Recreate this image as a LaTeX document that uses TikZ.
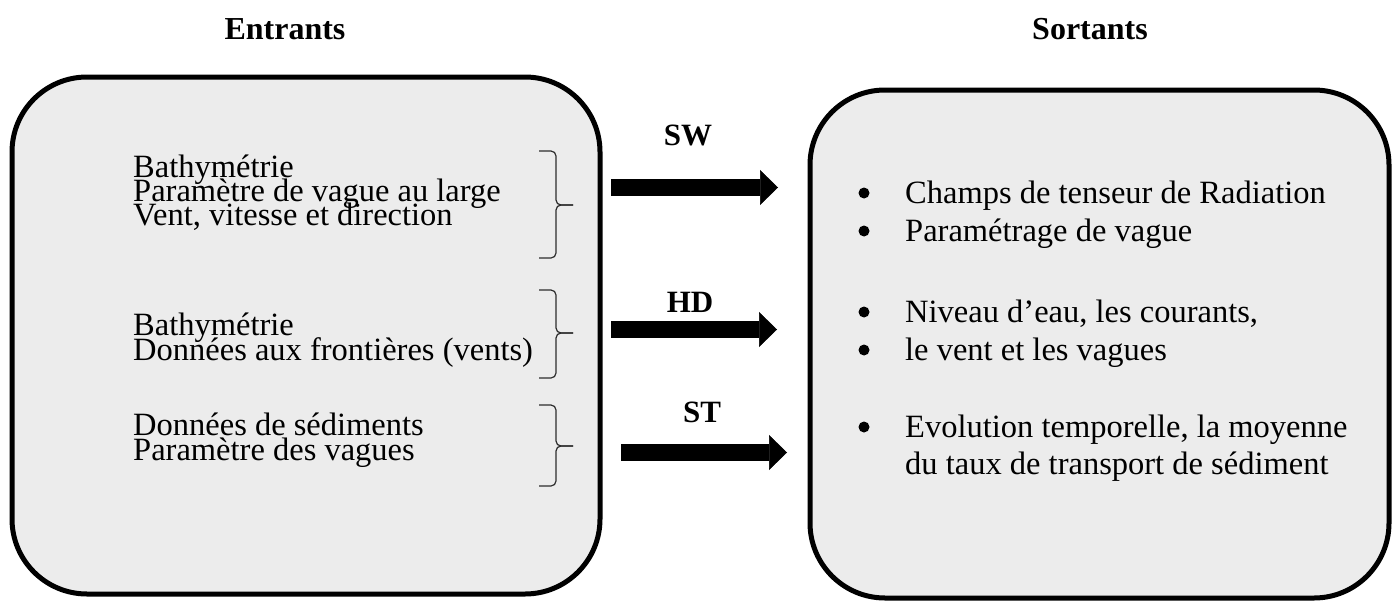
\documentclass[tikz,border=0pt]{standalone}
\usepackage{fontspec}
\setmainfont{Liberation Serif}
\usetikzlibrary{arrows.meta}
\definecolor{panelgray}{RGB}{236,236,236}
\definecolor{bracegray}{RGB}{45,45,45}
\tikzset{
  panel/.style={draw=black, fill=panelgray, rounded corners=75pt, line width=5pt,
    inner sep=0pt},
  title/.style={font=\fontsize{32}{32}\selectfont\bfseries, anchor=base, inner sep=0pt},
  line/.style={font=\fontsize{32.5}{32.5}\selectfont, anchor=base west, inner sep=0pt},
  tag/.style={font=\fontsize{31}{31}\selectfont\bfseries, anchor=base, inner sep=0pt},
  dot/.style={circle, fill=black, minimum size=11pt, inner sep=0pt},
  bigflow/.style={-{Triangle[length=18pt, width=35pt, line width=0.5pt]},
    line width=17pt, draw=black},
  grp/.style={line width=1.2pt, draw=bracegray, rounded corners=5pt},
}
% brace: top, tip, bottom (y values)
\newcommand{\grpbrace}[3]{%
  \draw[grp] (539,#1) -- (556,#1) -- (556,#2) -- (573,#2);
  \draw[grp] (539,#3) -- (556,#3) -- (556,#2) -- (573,#2);
}
\begin{document}
\begin{tikzpicture}[x=1pt,y=-1pt]
  \useasboundingbox (0,0) rectangle (1397,602);
  % the two panels
  \node[panel, minimum width=588pt, minimum height=517pt] (inbox) at (306,335.5) {};
  \node[panel, minimum width=579pt, minimum height=508pt] (outbox) at (1099.5,344) {};
  \node[title] (entrants) at (285,40) {Entrants};
  \node[title] (sortants) at (1090,40) {Sortants};
  % inputs
  \node[line] (in1a) at (133,177) {Bathymétrie};
  \node[line] (in1b) at (133,201) {Paramètre de vague au large};
  \node[line] (in1c) at (133,225) {Vent, vitesse et direction};
  \node[line] (in2a) at (133,335) {Bathymétrie};
  \node[line] (in2b) at (133,360) {Données aux frontières (vents)};
  \node[line] (in3a) at (133,435) {Données de sédiments};
  \node[line] (in3b) at (133,460) {Paramètre des vagues};
  \grpbrace{151}{205}{258}
  \grpbrace{290}{333}{378}
  \grpbrace{405}{446}{486}
  % modules
  \coordinate (sw-a) at (611,187.5);
  \coordinate (sw-b) at (778,187.5);
  \coordinate (hd-a) at (611,329.5);
  \coordinate (hd-b) at (777,329.5);
  \coordinate (st-a) at (621,452.5);
  \coordinate (st-b) at (787,452.5);
  \draw[bigflow] (sw-a) -- (sw-b);
  \draw[bigflow] (hd-a) -- (hd-b);
  \draw[bigflow] (st-a) -- (st-b);
  \node[tag] (sw) at (688,145) {SW};
  \node[tag] (hd) at (690,312) {HD};
  \node[tag] (st) at (702,422) {ST};
  % outputs
  \node[dot] (b1a) at (864,193) {};
  \node[line] (out1a) at (905,203) {Champs de tenseur de Radiation};
  \node[dot] (b1b) at (864,231) {};
  \node[line] (out1b) at (905,241) {Paramétrage de vague};
  \node[dot] (b2a) at (864,312) {};
  \node[line] (out2a) at (905,322) {Niveau d’eau, les courants,};
  \node[dot] (b2b) at (864,350) {};
  \node[line] (out2b) at (905,360) {le vent et les vagues};
  \node[dot] (b3a) at (864,427) {};
  \node[line] (out3a) at (905,437) {Evolution temporelle, la moyenne};
  \node[line] (out3b) at (905,474) {du taux de transport de sédiment};
\end{tikzpicture}
\end{document}
